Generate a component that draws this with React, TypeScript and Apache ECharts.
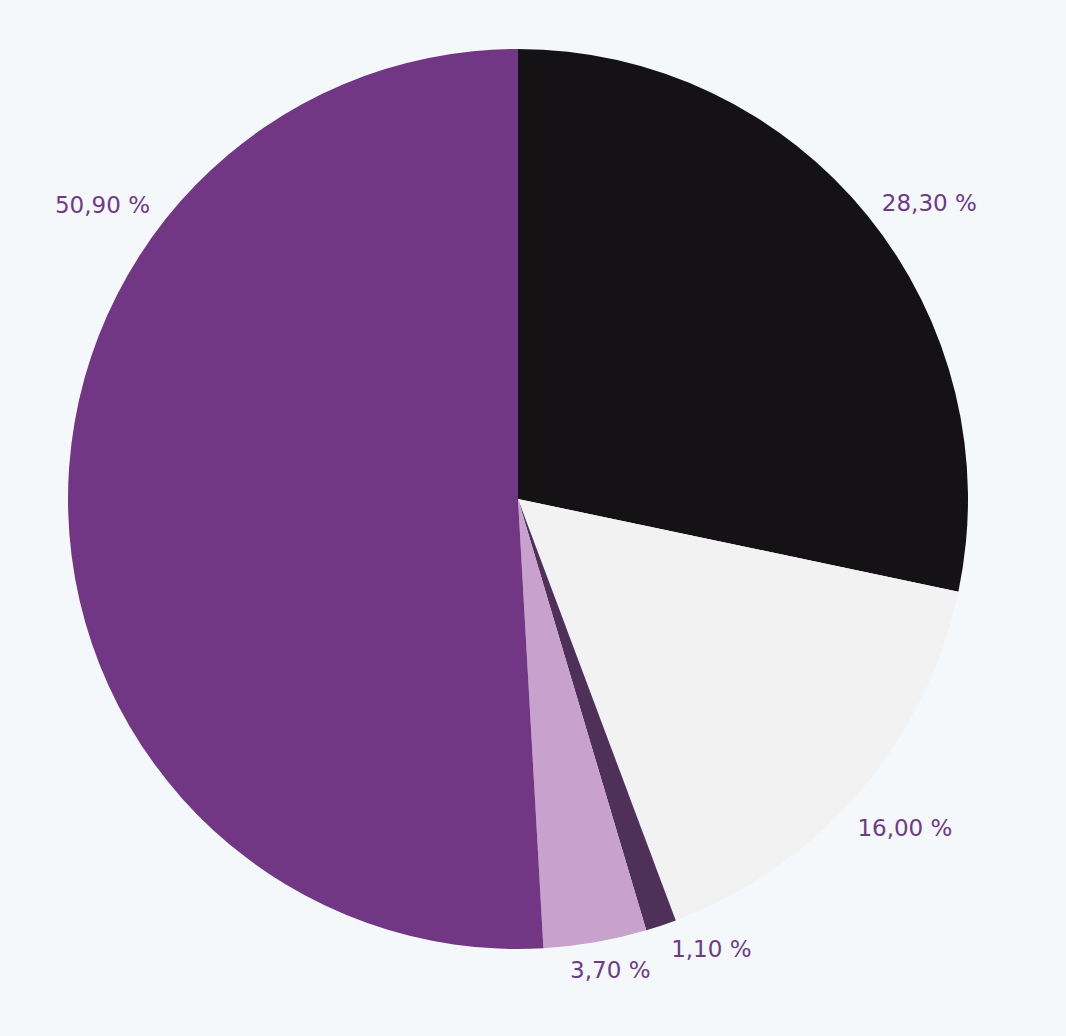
import React, { useEffect, useRef } from "react";
import * as echarts from "echarts";

const categories = ["A", "B", "C", "D", "E"];
const values = [28.3, 16.0, 1.1, 3.7, 50.9];
const colors = ["#141215", "#f2f2f2", "#4e3059", "#c8a2cc", "#713784"];
const labelColor = "#6f3a86";
const labelShift = [
  [-3, -2],
  [-19, 25],
  [0, 8],
  [-33, 12],
  [0, 0],
];

export default function App() {
  const ref = useRef<HTMLDivElement>(null);
  useEffect(() => {
    document.body.style.margin = "0";
    const chart = echarts.init(ref.current!, undefined, { renderer: "svg" });
    chart.setOption({
      animation: false,
      backgroundColor: "#f4f8fb",
      series: [
        {
          type: "pie",
          center: [518, 499],
          radius: 450,
          startAngle: 90,
          clockwise: true,
          avoidLabelOverlap: false,
          data: categories.map((c, i) => ({
            name: c,
            value: values[i],
            itemStyle: { color: colors[i] },
          })),
          label: {
            show: true,
            position: "outside",
            formatter: (p: any) => p.value.toFixed(2).replace(".", ",") + " %",
            color: labelColor,
            fontFamily: "DejaVu Sans",
            fontSize: 23,
          },
          labelLine: { show: false, length: 16, length2: 0 },
          labelLayout: (p: any) =>
            p.dataIndex === 4
              ? { x: 150, y: 205, align: "right", verticalAlign: "middle" }
              : { dx: labelShift[p.dataIndex][0], dy: labelShift[p.dataIndex][1] },
        },
      ],
    });
    return () => chart.dispose();
  }, []);
  return <div ref={ref} style={{ width: 1066, height: 1036 }} />;
}
